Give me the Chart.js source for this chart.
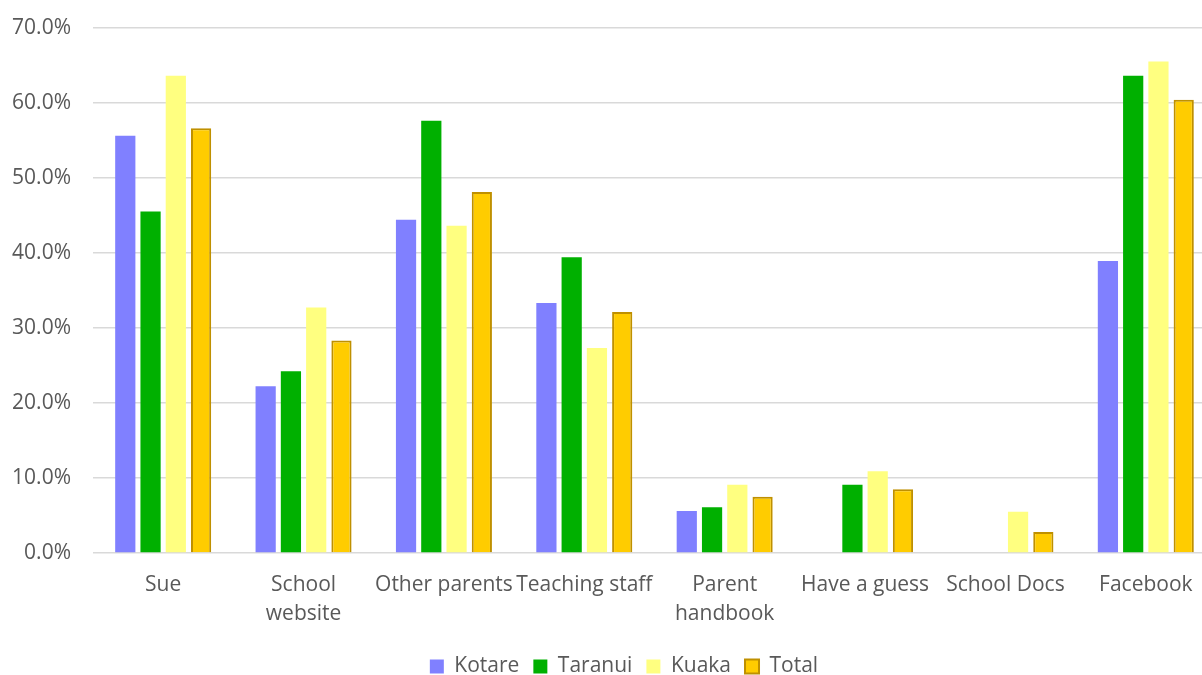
<!DOCTYPE html>
<html>
<head>
<meta charset="utf-8">
<script src="https://cdn.jsdelivr.net/npm/chart.js@4"></script>
<style>
  html, body { margin: 0; padding: 0; background: #fff; overflow: hidden; }
  #wrap { position: absolute; left: 0; top: -7px; }
</style>
</head>
<body>
<div id="wrap"><canvas id="chart" width="1247" height="694"></canvas></div>
<script>
// 카테고리와 시리즈 값 (%)
const categories = ["Sue", ["School", "website"], "Other parents", "Teaching staff",
  ["Parent", "handbook"], "Have a guess", "School Docs", "Facebook"];
const kotare  = [55.6, 22.2, 44.4, 33.3, 5.6, 0, 0, 38.9];
const taranui = [45.5, 24.2, 57.6, 39.4, 6.1, 9.1, 0, 63.6];
const kuaka   = [63.6, 32.7, 43.6, 27.3, 9.1, 10.9, 5.5, 65.5];
const total   = [56.6, 28.3, 48.1, 32.1, 7.5, 8.5, 2.8, 60.4];
const yTicks  = [0, 10, 20, 30, 40, 50, 60, 70];

const textColor = "#595959";
const fontFamily = "'Open Sans', 'Noto Sans', sans-serif";

// 범례를 오른쪽으로 조금 옮김 (원본 차트는 잘려 있어서 중심이 다름)
const legendShift = {
  id: "legendShift",
  beforeDraw(chart) {
    const lg = chart.legend;
    if (lg && !lg._shifted) {
      lg.left += 16;
      lg.right += 16;
      lg._shifted = true;
    }
  }
};

const ctx = document.getElementById("chart").getContext("2d");

new Chart(ctx, {
  type: "bar",
  data: {
    labels: categories,
    datasets: [
      { label: "Kotare", data: kotare, backgroundColor: "#8080FF", borderWidth: 0 },
      { label: "Taranui", data: taranui, backgroundColor: "#00B000", borderWidth: 0 },
      { label: "Kuaka", data: kuaka, backgroundColor: "#FFFF80", borderWidth: 0 },
      { label: "Total", data: total, backgroundColor: "#FFCC00", borderColor: "#BF9000", borderWidth: 2 }
    ]
  },
  plugins: [legendShift],
  options: {
    responsive: false,
    animation: false,
    datasets: {
      bar: { categoryPercentage: 0.72, barPercentage: 0.8 }
    },
    layout: { padding: { left: 0, right: 31, top: 19, bottom: 0 } },
    plugins: {
      legend: {
        position: "bottom",
        labels: {
          boxWidth: 14,
          boxHeight: 14,
          padding: 14,
          color: textColor,
          font: { family: fontFamily, size: 21 }
        }
      },
      tooltip: { enabled: false }
    },
    scales: {
      x: {
        grid: { display: false, drawTicks: false },
        border: { display: false },
        ticks: {
          color: textColor,
          font: { family: fontFamily, size: 21, lineHeight: 1.38 },
          padding: 18,
          autoSkip: false,
          maxRotation: 0
        },
        afterFit: (s) => { s.height = 89; }
      },
      y: {
        min: 0,
        max: 70,
        afterBuildTicks: (s) => { s.ticks = yTicks.map(v => ({ value: v })); },
        grid: { color: "#D9D9D9", lineWidth: 1.5, drawTicks: false },
        border: { display: false },
        ticks: {
          color: textColor,
          font: { family: fontFamily, size: 21 },
          padding: 22,
          callback: (v) => v.toFixed(1) + "%"
        },
        afterFit: (s) => { s.width = 93; }
      }
    }
  }
});
</script>
</body>
</html>
